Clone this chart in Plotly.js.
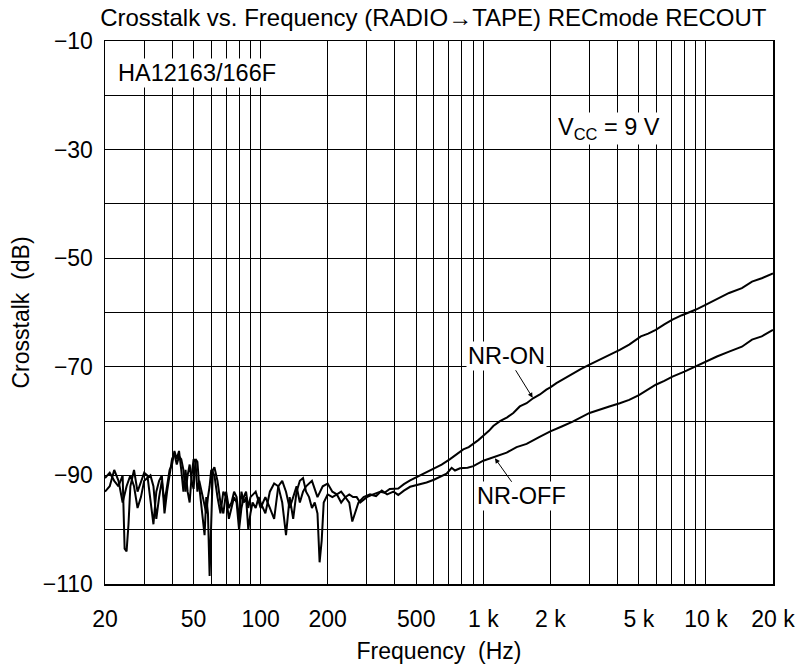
<!DOCTYPE html>
<html>
<head>
<meta charset="utf-8">
<script src="https://cdn.plot.ly/plotly-3.0.1.min.js"></script>
<style>html,body{margin:0;padding:0;background:#fff;}#chart{width:798px;height:669px;}</style>
</head>
<body>
<div id="chart"></div>
<script>
// NR-ON series (Hz, dB)
const freqOn = [20,21,22,23,24,24.5,25,25.5,26,27,28,29,30,31,32,33,34,35,36,37,38,39,40,41,42,43,44,45,46,47,48,49,50,51,52,53,54,55,56,57,58,59,60,61,62,64,66,68,70,72,74,76,78,80,82,84,86,88,90,92,95,98,100,105,110,115,120,125,130,135,140,145,150,155,160,165,170,175,180,184,188,192,200,210,220,230,240,250,260,270,280,300,320,344,360,380,415,440,469,502,550,596,650,709,760,813,860,902,950,1000,1060,1109,1188,1280,1364,1458,1565,1673,1796,1919,2000,2130,2300,2520,2750,3000,3300,3680,4100,4520,5100,5500,5950,6500,7070,7800,8970,9950,11200,12700,14500,16100,17800,20000];
const crossOn = [-90.5,-89.5,-91,-92,-90,-103.5,-104,-99,-92,-89,-93,-91,-89.5,-90,-95,-99,-93,-91,-90,-97,-93,-90,-87,-86,-88,-86.5,-87,-89,-93,-90,-88,-91,-92.5,-87,-87.5,-92,-95,-97,-101,-94,-97,-108.5,-100,-89,-88.5,-91,-95,-97,-93,-96,-95,-93,-94,-98,-93,-95,-94,-100,-97,-95,-96,-94,-95,-97,-93,-91.5,-92,-95,-101,-94,-98,-93,-91,-90.5,-93,-94,-96,-95,-97,-106,-102,-95,-93.5,-94,-93.5,-95,-94,-93.5,-94,-94,-95,-94,-93.5,-93,-93.2,-92.5,-92.4,-91.6,-90.9,-90.3,-89.6,-88.8,-88,-87,-86.1,-85.2,-84.8,-84.2,-83.5,-82.7,-81.8,-80.9,-80,-79.3,-78.5,-77.3,-76.7,-75.8,-75.1,-74.2,-73.8,-73.0,-72.2,-71.2,-70.4,-69.6,-68.8,-67.8,-66.9,-65.9,-64.4,-63.9,-63.2,-62.2,-61.3,-60.5,-59.5,-58.6,-57.5,-56.4,-55.5,-54.3,-53.7,-52.8];

// NR-OFF series (Hz, dB)
const freqOff = [20,21,22,23,24,25,26,27,28,29,30,32,33,34,35,36,37,38,39,40,41,42,43,44,45,46,47,48,49,50,51,52,53,55,57,58,59,60,62,64,66,68,70,72,74,76,78,80,82,84,86,88,90,95,100,105,110,115,120,125,130,135,140,145,150,155,160,170,180,190,200,210,220,230,240,250,258,266,275,290,310,330,350,370,395,415,440,469,520,556,600,639,684,721,746,786,850,902,1000,1070,1148,1273,1411,1565,1790,2000,2250,2520,3000,3300,3680,4100,4520,5000,5450,5950,6500,7070,8000,8970,9950,11200,12700,14500,16100,17800,20000];
const crossOff = [-93,-92,-89,-91,-95,-92,-90,-92,-96,-94,-91,-90,-92,-98,-94,-91,-95,-92,-89,-88,-85.5,-87,-85.5,-89,-93,-89,-93,-95,-90,-87,-87.5,-93,-91,-94,-97,-94,-92,-89,-90,-94,-97,-93,-94,-98,-96,-94,-95,-100,-96,-94,-93,-96,-94,-93,-96,-94,-96,-98,-92,-91,-93,-96,-94,-92,-95,-93,-92,-91,-94,-92,-91.5,-93,-93.5,-93,-94,-95,-98.5,-97,-95,-94,-93.5,-93.8,-92.8,-93.5,-93,-93.6,-92.8,-92.1,-91.7,-91.3,-90.8,-90.3,-89.7,-88.6,-89.1,-88.7,-88.6,-88.3,-87.3,-86.9,-86.5,-85.8,-84.8,-84.2,-82.9,-81.9,-81,-80.1,-78.5,-77.9,-77.3,-76.7,-76.1,-75.2,-74.2,-73.3,-72.6,-71.8,-70.9,-69.9,-69.0,-68.1,-67.2,-66.3,-65.0,-64.4,-63.2];

// axis ticks
const xTickVals = [20,30,40,50,60,70,80,90,100,200,300,400,500,600,700,800,900,1000,2000,3000,4000,5000,6000,7000,8000,9000,10000,20000];
const xTickText = ['20','','','50','','','','','100','200','','','500','','','','','1 k','2 k','','','5 k','','','','','10 k','20 k'];
const yTickVals = [-10,-20,-30,-40,-50,-60,-70,-80,-90,-100,-110];
const yTickText = ['\u221210','','\u221230','','\u221250','','\u221270','','\u221290','','\u2212110'];

const FONT = 'Liberation Sans, Arial, sans-serif';

const traces = [
  {x: freqOn, y: crossOn, mode: 'lines', line: {color: '#000', width: 2}, name: 'NR-ON', hoverinfo: 'skip'},
  {x: freqOff, y: crossOff, mode: 'lines', line: {color: '#000', width: 2}, name: 'NR-OFF', hoverinfo: 'skip'}
];

const layout = {
  width: 798, height: 669,
  margin: {l: 105, r: 25, t: 41, b: 85},
  paper_bgcolor: '#fff', plot_bgcolor: '#fff',
  showlegend: false,
  font: {family: FONT, color: '#000', size: 23},
  title: {text: 'Crosstalk vs. Frequency (RADIO\u2192TAPE) RECmode RECOUT', font: {family: FONT, size: 24, color: '#000'}, x: 0.543, xanchor: 'center', y: 0.973, yanchor: 'middle'},
  xaxis: {
    type: 'log', range: [Math.log10(20), Math.log10(20000)],
    tickmode: 'array', tickvals: xTickVals, ticktext: xTickText,
    showgrid: true, gridcolor: '#000', gridwidth: 1,
    showline: true, linecolor: '#000', linewidth: 1.5, mirror: true,
    ticks: '', ticklabelstandoff: 14, zeroline: false, tickfont: {size: 23},
    title: {text: 'Frequency\u00a0 (Hz)', font: {size: 23}, standoff: 12}
  },
  yaxis: {
    range: [-110, -10],
    tickmode: 'array', tickvals: yTickVals, ticktext: yTickText,
    showgrid: true, gridcolor: '#000', gridwidth: 1,
    showline: true, linecolor: '#000', linewidth: 1.5, mirror: true,
    ticks: '', ticklabelstandoff: 6, zeroline: false, tickfont: {size: 23},
    title: {text: 'Crosstalk\u00a0 (dB)', font: {size: 23}, standoff: 6}
  },
  annotations: [
    {xref: 'paper', yref: 'paper', x: 0.016, y: 0.941, xanchor: 'left', yanchor: 'middle', text: 'HA12163/166F', showarrow: false, bgcolor: '#fff', font: {size: 23.5}},
    {xref: 'paper', yref: 'paper', x: 0.675, y: 0.838, xanchor: 'left', yanchor: 'middle', text: 'V<sub>CC</sub> = 9 V', showarrow: false, bgcolor: '#fff', font: {size: 23.5}},
    {x: Math.log10(1666), y: -75.7, text: 'NR-ON', showarrow: true, arrowhead: 2, arrowsize: 1, arrowwidth: 1, arrowcolor: '#000', ax: -26, ay: -42, bgcolor: '#fff', font: {size: 23.5}},
    {x: Math.log10(1128), y: -86.85, text: 'NR-OFF', showarrow: true, arrowhead: 2, arrowsize: 1, arrowwidth: 1, arrowcolor: '#000', ax: 27, ay: 38, bgcolor: '#fff', font: {size: 23.5}}
  ]
};

Plotly.newPlot('chart', traces, layout, {displayModeBar: false, staticPlot: true});
</script>
</body>
</html>
